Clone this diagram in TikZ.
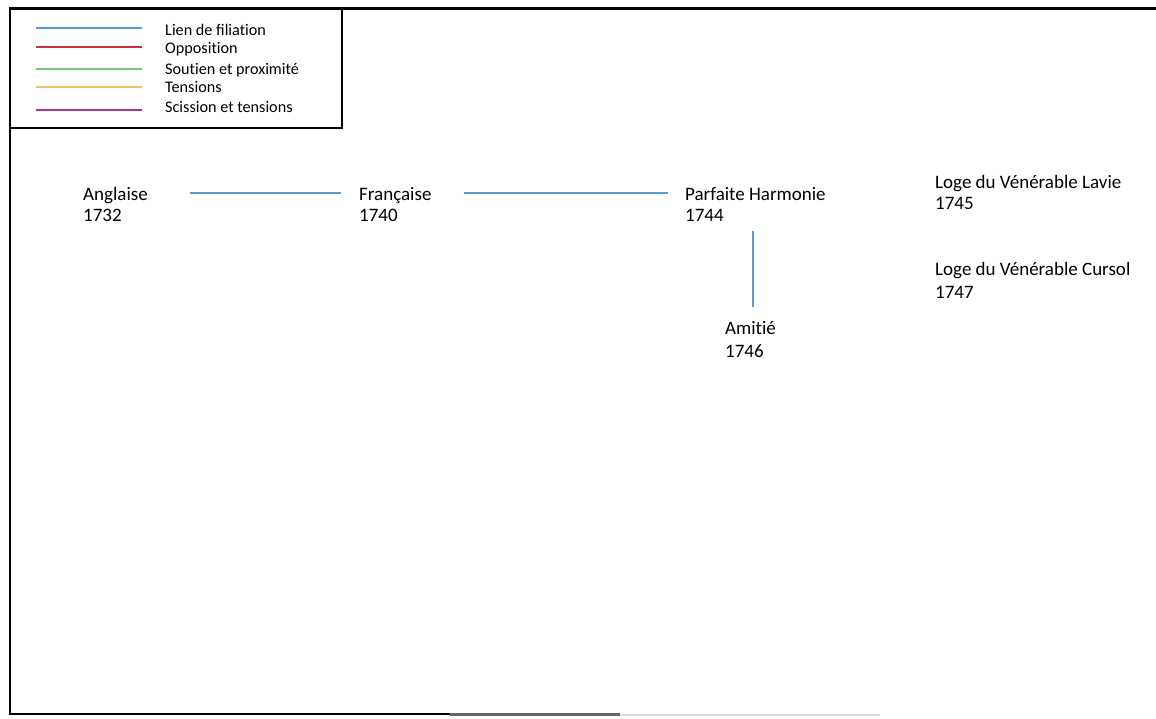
\documentclass[tikz,border=0pt]{standalone}
\usepackage{fontspec}
\setmainfont{Carlito}[Ligatures=NoCommon]
\definecolor{cfil}{HTML}{5B9BD5}
\definecolor{copp}{HTML}{C8303A}
\definecolor{csou}{HTML}{78C679}
\definecolor{cten}{HTML}{F9BE6A}
\definecolor{csci}{HTML}{A8369A}
\tikzset{
  lodge/.style={anchor=base west,inner sep=0pt,font=\fontsize{19}{21}\selectfont},
  legtext/.style={anchor=base west,inner sep=0pt,font=\fontsize{16.2}{18}\selectfont},
  legline/.style={line width=1.6pt},
  fil/.style={cfil,line width=2pt},
}
\begin{document}
\begin{tikzpicture}[x=1pt,y=-1pt]
\useasboundingbox (0,0) rectangle (1156,718);
\fill[white] (0,0) rectangle (1156,718);
% frame
\draw[line width=3pt] (1156,8) -- (10,8);
\draw[line width=2.5pt] (10,6.5) -- (10,714);
\draw[line width=2.5pt] (9,714) -- (450,714);
\draw[line width=2.2pt,black!60] (450,714.5) -- (620,714.5);
\draw[line width=2pt,black!15] (620,715) -- (880,715);
% legend box
\draw[line width=1.4pt] (10,128) -- (342,128) -- (342,8);
\coordinate (l1a) at (36,28);  \coordinate (l1b) at (142,28);
\coordinate (l2a) at (36,47);  \coordinate (l2b) at (142,47);
\coordinate (l3a) at (36,69);  \coordinate (l3b) at (142,69);
\coordinate (l4a) at (36,87);  \coordinate (l4b) at (142,87);
\coordinate (l5a) at (36,110); \coordinate (l5b) at (142,110);
\draw[legline,cfil] (l1a) -- (l1b);
\draw[legline,copp] (l2a) -- (l2b);
\draw[legline,csou] (l3a) -- (l3b);
\draw[legline,cten] (l4a) -- (l4b);
\draw[legline,csci] (l5a) -- (l5b);
\node[legtext] (t1) at (165,35) {Lien de ﬁliation};
\node[legtext] (t2) at (165,53) {Opposition};
\node[legtext] (t3) at (165,74) {Soutien et proximité};
\node[legtext] (t4) at (165,92) {Tensions};
\node[legtext] (t5) at (165,112) {Scission et tensions};
% lodges
\node[lodge] (ang) at (83,200) {Anglaise};
\node[lodge] (angy) at (83,221) {1732};
\node[lodge] (fra) at (359,200) {Française};
\node[lodge] (fray) at (359,221) {1740};
\node[lodge] (ph) at (685,200) {Parfaite Harmonie};
\node[lodge] (phy) at (685,221) {1744};
\node[lodge] (lav) at (935,188) {Loge du Vénérable Lavie};
\node[lodge] (lavy) at (935,209) {1745};
\node[lodge] (cur) at (935,275) {Loge du Vénérable Cursol};
\node[lodge] (cury) at (935,298) {1747};
\node[lodge] (ami) at (725,334) {Amitié};
\node[lodge] (amiy) at (725,357) {1746};
% connectors
\coordinate (h) at (0,193);
\coordinate (v1) at (0,231);
\coordinate (v2) at (0,307);
\path (ang.east) ++(42,0) coordinate (a1);
\path (fra.west) ++(-18,0) coordinate (a2);
\path (fra.east) ++(32,0) coordinate (b1);
\path (ph.west) ++(-17,0) coordinate (b2);
\path (ph.center) ++(-2.5,0) coordinate (pv);
\draw[fil] (a1 |- h) -- (a2 |- h);
\draw[fil] (b1 |- h) -- (b2 |- h);
\draw[fil] (pv |- v1) -- (pv |- v2);
\end{tikzpicture}
\end{document}
